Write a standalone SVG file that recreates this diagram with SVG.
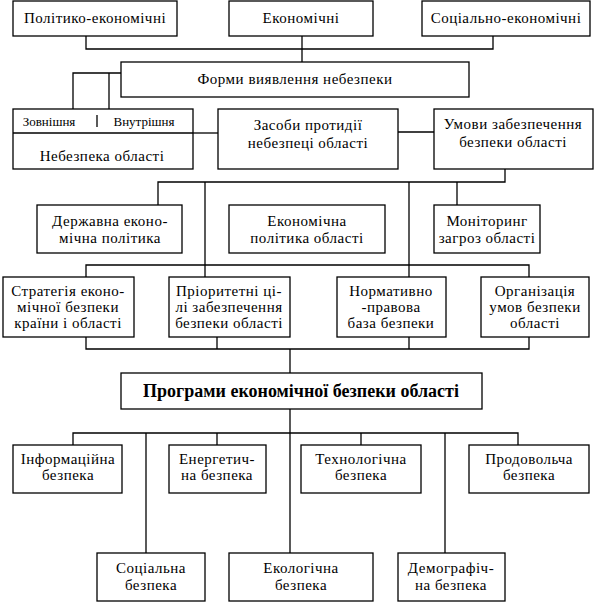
<svg xmlns="http://www.w3.org/2000/svg" width="602" height="602" viewBox="0 0 602 602">
<style>
.b{fill:#fff;stroke:#000;stroke-width:1.3}
.c{stroke:#000;stroke-width:1.3;fill:none}
text{font-family:"Liberation Serif","Times New Roman",serif;font-size:15px;letter-spacing:0.5px;text-anchor:middle;fill:#000}
.s{font-size:13px;letter-spacing:0}
.t{font-size:18px;font-weight:bold;letter-spacing:0}
</style>
<rect width="602" height="602" fill="#fff"/>
<g id="connectors">
<polyline class="c" points="86,36 86,49 493,49 493,36"/>
<line class="c" x1="302" y1="36" x2="302" y2="62"/>
<polyline class="c" points="121,73 73,73 73,109"/>
<line class="c" x1="109" y1="73" x2="109" y2="109"/>
<line class="c" x1="193" y1="133" x2="218" y2="133"/>
<line class="c" x1="398" y1="132" x2="434" y2="132"/>
<polyline class="c" points="505,169 505,182 158,182 158,205"/>
<line class="c" x1="205" y1="182" x2="205" y2="277"/>
<line class="c" x1="409" y1="182" x2="409" y2="277"/>
<line class="c" x1="457" y1="182" x2="457" y2="205"/>
<polyline class="c" points="86,277 86,265 529,265 529,277"/>
<polyline class="c" points="86,337 86,349 529,349 529,337"/>
<line class="c" x1="217" y1="337" x2="217" y2="349"/>
<line class="c" x1="409" y1="337" x2="409" y2="349"/>
<line class="c" x1="290" y1="349" x2="290" y2="373"/>
<line class="c" x1="290" y1="409" x2="290" y2="553"/>
<polyline class="c" points="73,445 73,433 518,433 518,445"/>
<line class="c" x1="146" y1="433" x2="146" y2="553"/>
<line class="c" x1="217" y1="433" x2="217" y2="445"/>
<line class="c" x1="361" y1="433" x2="361" y2="445"/>
<line class="c" x1="445" y1="433" x2="445" y2="553"/>
</g>
<g id="n1"><rect class="b" x="13" y="1" width="164" height="35"/><text x="95" y="23">Політико-економічні</text></g>
<g id="n2"><rect class="b" x="229" y="1" width="144" height="35"/><text x="301" y="23">Економічні</text></g>
<g id="n3"><rect class="b" x="422" y="1" width="168" height="35"/><text x="506" y="23">Соціально-економічні</text></g>
<g id="n4"><rect class="b" x="121" y="62" width="348" height="35"/><text x="295" y="84">Форми виявлення небезпеки</text></g>
<g id="n5"><rect class="b" x="13" y="109" width="180" height="60"/><line class="c" x1="13" y1="133" x2="193" y2="133"/><line class="c" x1="97" y1="115" x2="97" y2="127"/><text class="s" x="49" y="126">Зовнішня</text><text class="s" x="144" y="126">Внутрішня</text><text x="102" y="161">Небезпека області</text></g>
<g id="n6"><rect class="b" x="218" y="109" width="180" height="60"/><text x="308" y="130">Засоби протидії</text><text x="308" y="148">небезпеці області</text></g>
<g id="n7"><rect class="b" x="434" y="109" width="159" height="60"/><text x="513" y="129">Умови забезпечення</text><text x="513" y="147">безпеки області</text></g>
<g id="n8"><rect class="b" x="37" y="205" width="145" height="48"/><text x="110" y="226">Державна еконо-</text><text x="110" y="243">мічна політика</text></g>
<g id="n9"><rect class="b" x="229" y="205" width="156" height="48"/><text x="307" y="226">Економічна</text><text x="307" y="243">політика області</text></g>
<g id="n10"><rect class="b" x="434" y="205" width="106" height="48"/><text x="487" y="226">Моніторинг</text><text x="487" y="243">загроз області</text></g>
<g id="n11"><rect class="b" x="3" y="277" width="131" height="60"/><text x="68" y="296">Стратегія еконо-</text><text x="68" y="312">мічної безпеки</text><text x="68" y="328">країни і області</text></g>
<g id="n12"><rect class="b" x="169" y="277" width="121" height="60"/><text x="229" y="296">Пріоритетні  ці-</text><text x="229" y="312">лі забезпечення</text><text x="229" y="328">безпеки області</text></g>
<g id="n13"><rect class="b" x="337" y="277" width="109" height="60"/><text x="391" y="296">Нормативно</text><text x="391" y="312">-правова</text><text x="391" y="328">база безпеки</text></g>
<g id="n14"><rect class="b" x="481" y="277" width="108" height="60"/><text x="535" y="296">Організація</text><text x="535" y="312">умов безпеки</text><text x="535" y="328">області</text></g>
<g id="n15"><rect class="b" x="121" y="373" width="361" height="36"/><text class="t" x="301" y="397">Програми економічної безпеки області</text></g>
<g id="n16"><rect class="b" x="13" y="445" width="109" height="48"/><text x="68" y="464">Інформаційна</text><text x="68" y="480">безпека</text></g>
<g id="n17"><rect class="b" x="169" y="445" width="97" height="48"/><text x="217" y="464">Енергетич-</text><text x="217" y="480">на безпека</text></g>
<g id="n18"><rect class="b" x="301" y="445" width="120" height="48"/><text x="361" y="464">Технологічна</text><text x="361" y="480">безпека</text></g>
<g id="n19"><rect class="b" x="469" y="445" width="120" height="48"/><text x="529" y="464">Продовольча</text><text x="529" y="480">безпека</text></g>
<g id="n20"><rect class="b" x="97" y="553" width="108" height="48"/><text x="151" y="573">Соціальна</text><text x="151" y="590">безпека</text></g>
<g id="n21"><rect class="b" x="229" y="553" width="144" height="48"/><text x="301" y="573">Екологічна</text><text x="301" y="590">безпека</text></g>
<g id="n22"><rect class="b" x="398" y="553" width="107" height="48"/><text x="451" y="573">Демографіч-</text><text x="451" y="590">на безпека</text></g>
</svg>
